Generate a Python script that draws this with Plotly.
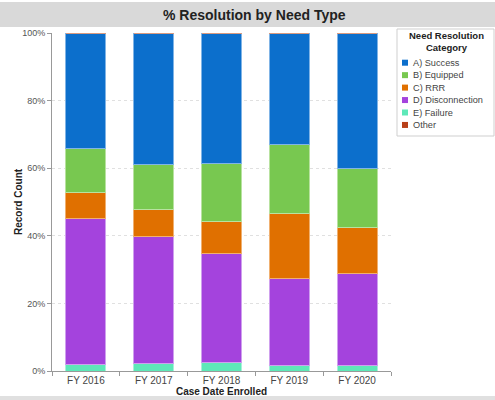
import plotly.graph_objects as go

categories = ["FY 2016", "FY 2017", "FY 2018", "FY 2019", "FY 2020"]
series_names = ["E) Failure", "D) Disconnection", "C) RRR", "B) Equipped", "A) Success", "Other"]
failure = [1.9, 2.2, 2.4, 1.6, 1.6]
disconnection = [43.2, 37.5, 32.5, 25.9, 27.3]
rrr = [7.6, 8.0, 9.4, 19.1, 13.5]
equipped = [13.2, 13.3, 17.0, 20.3, 17.4]
success = [34.1, 39.0, 38.7, 33.1, 40.2]
other = [0, 0, 0, 0, 0]
y_ticks = [0, 20, 40, 60, 80, 100]
y_tick_labels = ["0%", "20%", "40%", "60%", "80%", "100%"]

values = [failure, disconnection, rrr, equipped, success, other]
colors = ["#5ee8b8", "#a443dd", "#e07000", "#78c850", "#0c6fcc", "#b8401a"]
outline = ["#a8f2d8", "#cfa0ee", "#f0b070", "#b8e2a0", "#80b4e6", "#d89a80"]
legend_rank = [5, 4, 3, 2, 1, 6]

W, H = 495, 400
L, R, T, B = 52, 104, 33, 29
pw, ph = W - L - R, H - T - B

def px_x(x):
    return (x - L) / pw

def px_y(y):
    return (H - B - y) / ph

fig = go.Figure()
for name, v, c, oc in zip(series_names, values, colors, outline):
    fig.add_trace(go.Bar(
        x=categories, y=v, name=name,
        marker=dict(color=c, line=dict(color=oc, width=1)),
        showlegend=False,
    ))

shapes = [
    dict(type="rect", xref="paper", yref="paper",
         x0=px_x(0), x1=px_x(W), y0=px_y(27), y1=px_y(2),
         fillcolor="#d9d9d9", line=dict(width=0), layer="below"),
    dict(type="rect", xref="paper", yref="paper",
         x0=px_x(0), x1=px_x(W), y0=px_y(H), y1=px_y(396),
         fillcolor="#e0e0e0", line=dict(width=0), layer="below"),
    dict(type="rect", xref="paper", yref="paper",
         x0=px_x(397), x1=px_x(494), y0=px_y(136), y1=px_y(29),
         fillcolor="white", line=dict(color="#cfcfcf", width=1)),
]
annotations = [
    dict(text="<b>% Resolution by Need Type</b>",
         x=px_x(254), y=px_y(15), xref="paper", yref="paper",
         xanchor="center", yanchor="middle", showarrow=False,
         font=dict(size=14, color="#222")),
    dict(text="<b>Need Resolution<br>Category</b>",
         x=px_x(446), y=px_y(41), xref="paper", yref="paper",
         xanchor="center", yanchor="middle", showarrow=False, align="center",
         font=dict(size=9.5, color="#222")),
    dict(text="<b>Record Count</b>", textangle=-90,
         x=px_x(18), y=0.5, xref="paper", yref="paper",
         xanchor="center", yanchor="middle", showarrow=False,
         font=dict(size=10, color="#222")),
]

order = sorted(range(len(series_names)), key=lambda i: legend_rank[i])
for row, i in enumerate(order):
    yc = 62.7 + 12.45 * row
    shapes.append(dict(type="rect", xref="paper", yref="paper",
                       x0=px_x(402), x1=px_x(408), y0=px_y(yc + 3), y1=px_y(yc - 3),
                       fillcolor=colors[i], line=dict(width=0)))
    annotations.append(dict(text=series_names[i], x=px_x(411), y=px_y(yc),
                            xref="paper", yref="paper", xanchor="left", yanchor="middle",
                            showarrow=False, font=dict(size=9.2, color="#444")))

fig.update_layout(
    width=W, height=H,
    margin=dict(l=L, r=R, t=T, b=B, autoexpand=False),
    barmode="stack",
    bargap=0.41,
    paper_bgcolor="white",
    plot_bgcolor="white",
    font=dict(family="Liberation Sans, Arial, sans-serif", color="#444", size=10),
    showlegend=False,
    annotations=annotations,
    shapes=shapes,
)

fig.update_yaxes(
    range=[0, 100], tickvals=y_ticks, ticktext=y_tick_labels,
    showline=True, linecolor="#999", linewidth=1,
    ticks="outside", ticklen=4, tickcolor="#999",
    showgrid=True, gridcolor="#e0e0e0", griddash="dot",
    zeroline=False, automargin=False,
    tickfont=dict(size=9, color="#555"),
)
fig.update_xaxes(
    showline=True, linecolor="#999", linewidth=1,
    ticks="outside", ticklen=4, tickcolor="#999", tickson="boundaries",
    automargin=False,
    tickfont=dict(size=10, color="#444"),
    title=dict(text="<b>Case Date Enrolled</b>", font=dict(size=10, color="#222"), standoff=2),
)

fig.write_html("out.html")
